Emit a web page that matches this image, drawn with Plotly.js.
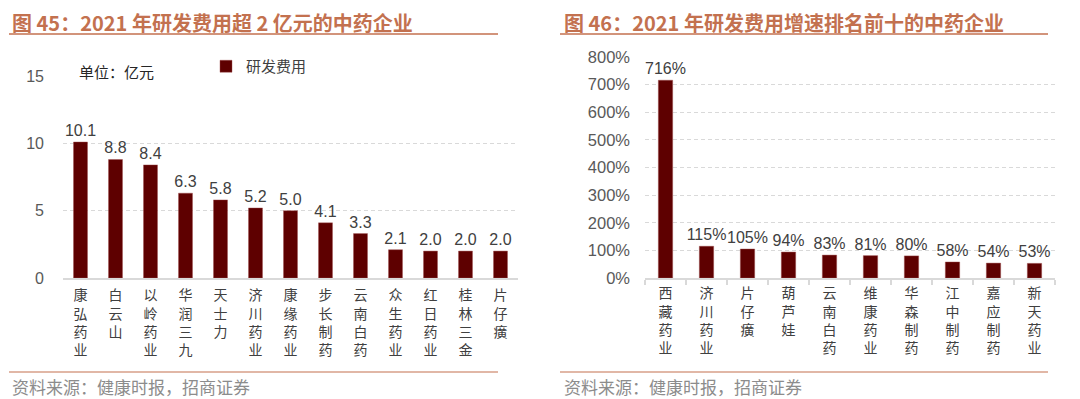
<!DOCTYPE html>
<html><head><meta charset="utf-8">
<script src="https://cdn.plot.ly/plotly-3.0.1.min.js"></script>
<style>html,body{margin:0;padding:0;background:#fff}#chart{width:1080px;height:399px}</style>
</head><body><div id="chart"></div>
<script>
// Left chart: 2021 R&D expense > 2亿元
const leftCategories = ["康弘药业","白云山","以岭药业","华润三九","天士力","济川药业","康缘药业","步长制药","云南白药","众生药业","红日药业","桂林三金","片仔癀"];
const leftValues = [10.1, 8.8, 8.4, 6.3, 5.8, 5.2, 5.0, 4.1, 3.3, 2.1, 2.0, 2.0, 2.0];
const leftSeriesName = "研发费用";
const leftTickVals = [0, 5, 10, 15];

// Right chart: R&D expense growth top 10 (%)
const rightCategories = ["西藏药业","济川药业","片仔癀","葫芦娃","云南白药","维康药业","华森制药","江中制药","嘉应制药","新天药业"];
const rightValues = [716, 115, 105, 94, 83, 81, 80, 58, 54, 53];
const rightTickVals = [0, 100, 200, 300, 400, 500, 600, 700, 800];

const W = 1080, H = 399;
const px = x => x / W;
const py = y => 1 - y / H;

const barColor = "#5e0000";
const titleColor = "#c3714f";
const cjk = "'Noto Sans CJK SC', 'Noto Sans', sans-serif";
const latin = "'Liberation Sans', Arial, sans-serif";
const vert = s => s.split("").join("<br>");

const traces = [
  {
    type: "bar", x: leftCategories, y: leftValues, name: leftSeriesName,
    xaxis: "x", yaxis: "y", width: 0.4,
    marker: {color: barColor, line: {color: "rgba(160,80,80,0.7)", width: 0.6}},
    text: leftValues.map(v => v.toFixed(1)), textposition: "outside", constraintext: "none",
    textfont: {family: latin, size: 16, color: "#404040"}, cliponaxis: false,
    hoverinfo: "skip", showlegend: true
  },
  {
    type: "bar", x: rightCategories, y: rightValues, name: "增速",
    xaxis: "x2", yaxis: "y2", width: 0.35,
    marker: {color: barColor, line: {color: "rgba(160,80,80,0.7)", width: 0.6}},
    text: rightValues.map(v => v + "%"), textposition: "outside", constraintext: "none",
    textfont: {family: latin, size: 16, color: "#404040"}, cliponaxis: false,
    hoverinfo: "skip", showlegend: false
  }
];

const gridStyle = {showgrid: true, gridcolor: "#d9d9d9", griddash: "4px,3px", gridwidth: 1};

const layout = {
  width: W, height: H,
  margin: {l: 0, r: 0, t: 0, b: 0},
  paper_bgcolor: "#fff", plot_bgcolor: "rgba(0,0,0,0)",
  showlegend: true,
  legend: {x: px(206), y: py(50), xanchor: "left", yanchor: "top", orientation: "h",
           font: {family: cjk, size: 15, color: "#404040"}, bgcolor: "rgba(0,0,0,0)",
           itemwidth: 30, tracegroupgap: 0},
  xaxis: {
    domain: [px(63), px(518)], anchor: "y", type: "category",
    tickvals: leftCategories, ticktext: leftCategories.map(vert),
    tickfont: {family: cjk, size: 14, color: "#404040"}, tickangle: 0,
    showline: true, linecolor: "#d9d9d9", linewidth: 1.5, ticks: "", showgrid: false,
    ticklabelstandoff: 4, fixedrange: true
  },
  yaxis: Object.assign({
    domain: [py(278), py(76)], anchor: "x", range: [0, 15],
    tickvals: leftTickVals, ticktext: leftTickVals.map(String),
    tickfont: {family: latin, size: 16, color: "#595959"},
    zeroline: false, showline: false, ticks: "", ticklabelstandoff: 18, fixedrange: true
  }, gridStyle),
  xaxis2: {
    domain: [px(645), px(1055)], anchor: "y2", type: "category",
    tickvals: rightCategories, ticktext: rightCategories.map(vert),
    tickfont: {family: cjk, size: 14, color: "#404040"}, tickangle: 0,
    showline: true, linecolor: "#d9d9d9", linewidth: 1.5,
    ticks: "outside", tickson: "boundaries", ticklen: 5, tickcolor: "#d9d9d9", tickwidth: 1.5,
    ticklabelstandoff: 2, showgrid: false, fixedrange: true
  },
  yaxis2: Object.assign({
    domain: [py(278), py(57)], anchor: "x2", range: [0, 800],
    tickvals: rightTickVals, ticktext: rightTickVals.map(v => v + "%"),
    tickfont: {family: latin, size: 16.5, color: "#595959"},
    zeroline: false, showline: false, ticks: "", ticklabelstandoff: 14, fixedrange: true
  }, gridStyle),
  shapes: [
    {type: "line", xref: "paper", yref: "paper", x0: px(9), x1: px(498), y0: py(34), y1: py(34), line: {color: titleColor, width: 1.5}},
    {type: "line", xref: "paper", yref: "paper", x0: px(560), x1: px(1048), y0: py(34), y1: py(34), line: {color: titleColor, width: 1.5}},
    {type: "line", xref: "paper", yref: "paper", x0: px(9), x1: px(498), y0: py(372), y1: py(372), line: {color: titleColor, width: 1.2}},
    {type: "line", xref: "paper", yref: "paper", x0: px(560), x1: px(1048), y0: py(372), y1: py(372), line: {color: titleColor, width: 1.2}}
  ],
  annotations: [
    {xref: "paper", yref: "paper", x: px(10), y: py(22), xanchor: "left", yanchor: "middle", showarrow: false,
     text: "<b>图 45：2021 年研发费用超 2 亿元的中药企业</b>", font: {family: cjk, size: 20, color: titleColor}},
    {xref: "paper", yref: "paper", x: px(562), y: py(22), xanchor: "left", yanchor: "middle", showarrow: false,
     text: "<b>图 46：2021 年研发费用增速排名前十的中药企业</b>", font: {family: cjk, size: 20, color: titleColor}},
    {xref: "paper", yref: "paper", x: px(77), y: py(71), xanchor: "left", yanchor: "middle", showarrow: false,
     text: "单位：亿元", font: {family: cjk, size: 15, color: "#262626"}},
    {xref: "paper", yref: "paper", x: px(10), y: py(386), xanchor: "left", yanchor: "middle", showarrow: false,
     text: "资料来源：健康时报，招商证券", font: {family: cjk, size: 17, color: "#8c8c8c"}},
    {xref: "paper", yref: "paper", x: px(562), y: py(386), xanchor: "left", yanchor: "middle", showarrow: false,
     text: "资料来源：健康时报，招商证券", font: {family: cjk, size: 17, color: "#8c8c8c"}}
  ]
};

Plotly.newPlot("chart", traces, layout, {staticPlot: true, displayModeBar: false});
</script>
</body></html>
